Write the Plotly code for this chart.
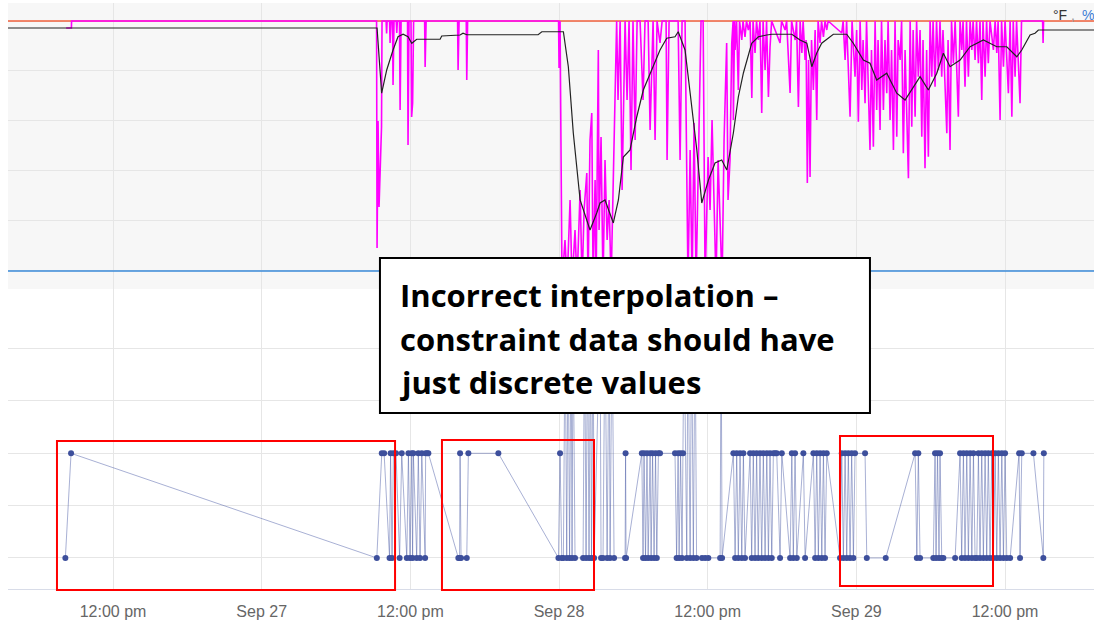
import pandas as pd
import plotly.graph_objects as go

BASE = pd.Timestamp("2022-09-26 00:00")

# ---- x axis ----
tick_hours = [12, 24, 36, 48, 60, 72, 84]
tick_labels = ["12:00 pm", "Sep 27", "12:00 pm", "Sep 28", "12:00 pm", "Sep 29", "12:00 pm"]
view_hours = [3.52, 91.18]

# ---- top panel (°F, %) ----
limit_hours = [3.0, 92.0]
upper_limit = [100, 100]
lower_limit = [0, 0]

temp_hours = [3.0, 33.23, 33.31, 33.68, 34.09, 34.6, 35.0, 35.41, 35.81, 36.11, 36.51, 38.4, 38.53,
              40.01, 40.25, 40.55, 46.31, 46.61, 48.35, 48.75, 49.15, 49.7, 50.5, 51.04, 51.31, 51.71,
              52.12, 52.38, 52.79, 53.19, 53.73, 54.27, 54.8, 55.61, 56.15, 56.69, 57.36, 57.62, 58.17,
              58.58, 59.12, 59.52, 60.06, 60.59, 61.13, 61.54, 62.07, 62.47, 62.88, 63.55, 64.09, 64.77,
              65.17, 66.79, 67.45, 68.0, 68.4, 68.8, 69.2, 70.14, 71.22, 71.75, 72.56, 73.1, 73.64,
              74.45, 75.26, 75.93, 76.47, 77.14, 77.81, 78.49, 79.02, 79.56, 80.37, 81.18, 82.25,
              83.33, 84.14, 84.95, 85.35, 85.76, 86.02, 86.42, 86.69, 87.88, 92.0]
temp_values = [97.2, 97.2, 97.2, 71.1, 80.4, 88.4, 93.7, 94.7, 93.7, 91.1, 92.7, 92.7, 94.0,
               94.4, 95.1, 94.5, 94.5, 95.7, 95.7, 81.7, 55.2, 28.4, 16.4, 23.2, 27.2, 28.4,
               23.2, 19.2, 28.4, 45.6, 48.4, 61.6, 72.4, 81.7, 88.4, 93.1, 93.7, 95.7, 88.4,
               71.2, 48.4, 27.2, 36.4, 43.2, 44.4, 40.4, 55.2, 69.6, 79.2, 91.1, 93.7, 94.4,
               94.7, 94.7, 92.4, 91.1, 81.7, 87.2, 91.1, 94.7, 94.7, 91.1, 84.4, 83.1, 76.4,
               79.1, 71.1, 68.4, 72.4, 77.7, 72.4, 79.1, 87.1, 81.7, 84.4, 89.7, 92.4,
               89.7, 89.7, 85.7, 88.4, 92.4, 94.4, 95.1, 96.4, 96.4, 96.4]

humid_hours = [8.21, 8.64, 8.65, 33.27, 33.31, 33.39, 33.47, 33.55, 33.67, 33.71, 34.04, 34.08, 34.12,
               34.32, 34.36, 34.44, 34.56, 34.6, 34.68, 34.86, 34.9, 34.95, 35.12, 35.17, 35.25,
               35.77, 35.81, 35.89, 36.05, 36.1, 36.18, 36.26, 37.15, 37.19, 37.27, 39.81, 39.85,
               39.93, 40.51, 40.55, 40.62, 47.96, 48.0, 48.08,
               48.24, 48.48, 48.65, 48.89, 49.05, 49.29, 49.45, 49.7, 49.86, 50.02, 50.24, 50.34,
               50.5, 50.64, 50.75, 50.91, 50.99, 51.17, 51.23, 51.39, 51.55, 51.71, 51.88, 52.04,
               52.2, 52.36, 52.65, 52.76, 52.93, 53.09, 53.33, 53.49, 53.65, 53.81, 53.97, 54.14,
               54.3, 54.54, 54.78, 54.94, 55.19, 55.35, 55.59, 55.75, 55.91, 56.15, 56.32, 56.64,
               56.72, 56.88, 57.61, 57.77, 57.93, 58.17, 58.41, 58.58, 58.74, 58.9, 59.06, 59.22,
               59.46, 59.63, 59.79, 60.03, 60.19, 60.35, 60.51, 60.67, 60.84, 61.0, 61.16, 61.32,
               61.53, 61.64, 61.8,
               61.94, 62.05, 62.07, 62.17, 62.21, 62.33, 62.47, 62.57, 62.75, 62.85, 63.01, 63.13,
               63.28, 63.42, 63.56, 63.66, 63.82, 63.94, 64.09, 64.22, 64.36, 64.47, 64.63, 64.75,
               64.9, 65.03, 65.16, 65.84, 65.96, 66.25, 66.37, 66.65, 66.77, 67.06, 67.17, 67.32,
               67.46, 67.6, 67.7, 67.86, 67.94, 68.04, 68.14, 68.26, 68.38, 68.53, 68.67, 68.8,
               68.91, 69.07, 69.19, 69.34, 69.47, 69.61, 69.72, 70.82, 70.93, 71.09, 71.21, 71.49,
               71.65, 71.89, 72.02, 72.16, 72.3, 72.44, 72.54, 72.7, 72.82, 73.1, 73.22, 73.37,
               73.51, 73.64, 73.75, 73.91, 74.03, 74.18, 74.31, 74.45, 74.56, 74.72, 74.84, 74.99,
               75.12, 75.26, 75.37, 75.53, 75.65, 75.79, 75.93, 76.2, 76.34, 76.47, 76.58, 76.74,
               76.86, 77.0, 77.14, 77.28, 77.38, 77.54, 77.67, 77.81, 77.95, 78.09, 78.19, 78.35,
               78.47, 78.62, 78.75, 78.89, 78.99, 79.3, 79.4, 79.56, 79.68, 79.83, 79.97, 80.23,
               80.37, 80.51, 80.61, 80.77, 80.89, 81.04, 81.18, 81.32, 81.42, 81.58, 81.7, 81.85,
               81.98, 82.12, 82.22, 82.39, 82.51, 82.65, 82.79, 83.06, 83.2, 83.33, 83.44, 83.6,
               83.72, 83.87, 84.0, 84.27, 84.41, 84.55, 84.66, 84.81, 84.93, 85.21, 85.33, 87.03,
               87.07, 87.11]
humid_values = [97.2, 97.2, 100, 100, 9.2, 60, 25.6, 40, 57.6, 100, 100, 95, 100,
                100, 91.2, 100, 100, 74.4, 100, 100, 95.2, 100, 100, 64.4, 100,
                100, 50.4, 100, 100, 61.6, 67.2, 100, 100, 81.6, 100, 100, 80.4,
                100, 100, 76.4, 100, 100, 81.2, 100,
                -5, 12.4, -5, 28.4, -5, 16.4, -5, 32.4, -5, 24.4, 39.2, -5,
                52.4, 63.2, -5, 36.4, -5, 88.4, 16.4, 53.6, -5, 44.4, 12.4, 28.4,
                -5, 32.4, 100, 68.4, 100, 32.4, 100, 68.4, 100, 40.4, 100, 52.4,
                100, 100, 68.4, 100, 100, 56.4, 100, 52.4, 100, 91.2, 100, 100,
                44.4, 100, 100, 44.4, 100, 100, -5, 48.4, -5, 59.2, -5, 36.4,
                100, 100, -5, 45.6, 24.4, 60.4, 31.2, -5, 44.4, 20.4, -5, 52.4,
                91.2, 28.4, 44.4,
                91.2, 100, 60.4, 100, 88.4, 100, 72.4, 100, 92.4, 100, 93.6, 100,
                96.4, 100, 69.2, 100, 87.2, 100, 92.4, 100, 63.2, 100, 80.4, 100,
                69.6, 89.6, 100, 91.2, 100, 96.4, 100, 71.2, 100, 92.4, 100, 65.6,
                100, 87.2, 100, 84.4, 92.4, 35.2, 84.4, 37.6, 92.4, 72.4, 96.4, 60.4,
                100, 91.2, 100, 93.6, 100, 96.4, 100, 95.2, 100, 84.4, 100, 61.7,
                100, 77.7, 96.4, 59.7, 100, 72.4, 92.4, 67.1, 100, 48.4, 88.4, 49.7,
                100, 64.4, 92.4, 56.4, 100, 64.4, 92.4, 71.1, 100, 60.4, 88.4, 48.4,
                100, 53.7, 92.4, 84.4, 100, 47.1, 88.4, 37.1, 100, 57.7, 96.4, 61.7,
                100, 77.7, 96.4, 53.7, 92.4, 41.1, 88.4, 45.7, 100, 77.7, 100, 73.7,
                100, 80.4, 100, 77.7, 96.4, 55.1, 92.4, 48.4, 100, 83.1, 100, 61.7,
                100, 88.4, 100, 73.7, 100, 77.7, 100, 88.4, 100, 84.4, 100, 83.1,
                100, 68.4, 100, 77.7, 100, 83.1, 100, 88.4, 100, 87.2, 100, 60.4,
                100, 81.7, 100, 71.1, 100, 61.7, 100, 77.7, 100, 67.1, 100, 100,
                91.2, 100]

# ---- bottom panel (constraint) ----
constraint_hours = [8.15, 8.61, 33.29, 33.69, 33.88, 34.32, 34.4, 34.52, 34.63, 34.84, 35.13, 35.3,
                    35.71, 35.84, 35.97, 36.11, 36.18, 36.24, 36.51, 36.64, 36.78, 36.92, 37.19, 37.23,
                    37.35, 37.45, 39.87, 39.97, 40.01, 40.09, 40.55, 40.68, 43.1, 47.95, 48.08, 48.22,
                    48.35, 48.49, 48.62, 48.73, 48.85, 48.97, 49.05, 49.13, 49.29, 49.94, 50.06, 50.18,
                    50.3, 50.42, 50.54, 50.62, 50.75, 50.83, 51.31, 51.39, 51.55, 51.71, 51.88, 52.04,
                    52.12, 52.28, 52.44, 53.33, 53.37, 53.41, 54.68, 54.78, 54.86, 54.98, 55.1, 55.19,
                    55.35, 55.43, 55.55, 55.67, 55.79, 55.89, 56.02, 56.15, 57.36, 57.49, 57.61, 57.69,
                    57.81, 57.93, 58.01, 58.09, 58.31, 58.41, 58.58, 58.7, 58.84, 58.98, 59.1, 59.54,
                    59.79, 60.05, 61.0, 61.08, 61.16, 62.07, 62.21, 62.34, 62.47, 62.61, 62.75, 62.88,
                    63.01, 63.42, 63.55, 63.68, 63.82, 63.95, 64.08, 64.22, 64.36, 64.49, 64.63, 64.77,
                    64.9, 65.03, 65.17, 65.3, 65.44, 65.57, 65.84, 65.98, 66.65, 66.79, 66.91, 67.05,
                    67.19, 67.72, 67.86, 68.53, 68.67, 68.8, 68.93, 69.07, 69.21, 69.34, 69.47, 69.61,
                    70.68, 70.82, 70.95, 71.09, 71.22, 71.35, 71.49, 71.62, 71.76, 71.89, 72.7, 72.84,
                    74.37, 76.74, 76.88, 77.0, 77.14, 78.21, 78.35, 78.43, 78.55, 78.67, 78.75, 78.89,
                    79.02, 79.97, 80.37, 80.5, 80.64, 80.77, 80.91, 81.04, 81.18, 81.32, 81.45, 81.58,
                    81.72, 81.85, 81.98, 82.12, 82.25, 82.39, 82.52, 82.65, 82.79, 82.93, 83.06, 83.2,
                    83.33, 83.46, 83.6, 83.74, 83.87, 84.0, 84.14, 84.41, 85.13, 85.21, 85.35, 86.29,
                    87.09, 87.13]
constraint_values = [0, 2, 0, 2, 2, 0, 2, 0, 2, 2, 0, 2,
                     0, 2, 0, 2, 0, 2, 0, 2, 0, 2, 0, 2,
                     2, 2, 0, 0, 2, 0, 0, 2, 2, 0, 2, 0,
                     0, 4.6, 0, 4.6, 0, 4.6, 0, 4.6, 0, 0, 4.6, 0,
                     4.6, 0, 4.6, 0, 4.6, 0, 4.6, 0, 0, 4.6, 0, 4.6,
                     0, 4.6, 0, 0, 2, 0, 2, 0, 2, 0, 2, 0,
                     2, 0, 2, 0, 2, 0, 2, 2, 2, 0, 2, 0,
                     2, 0, 2, 4.6, 0, 4.6, 0, 4.6, 0, 4.6, 0, 0,
                     0, 0, 0, 4.6, 0, 2, 0, 2, 0, 2, 0, 2,
                     0, 2, 0, 2, 0, 2, 0, 2, 0, 2, 0, 2,
                     0, 2, 0, 2, 2, 2, 0, 2, 0, 2, 0, 2,
                     0, 2, 0, 2, 0, 2, 0, 2, 0, 2, 0, 2,
                     0, 2, 0, 2, 0, 2, 0, 2, 0, 2, 2, 0,
                     0, 2, 0, 2, 0, 0, 2, 0, 2, 0, 2, 0,
                     0, 0, 2, 0, 2, 0, 2, 0, 2, 0, 2, 0,
                     0, 2, 0, 2, 0, 2, 0, 2, 0, 2, 0, 2,
                     0, 2, 0, 2, 0, 2, 0, 0, 2, 0, 2, 2,
                     0, 2]

note_lines = ["Incorrect interpolation –", "constraint data should have", "just discrete values"]


def to_time(hours):
    return [BASE + pd.Timedelta(hours=h) for h in hours]


fig = go.Figure()

fig.add_trace(go.Scatter(x=to_time(limit_hours), y=lower_limit, xaxis="x", yaxis="y2",
                         mode="lines", line=dict(color="#3a8ad8", width=1.6), hoverinfo="skip"))
fig.add_trace(go.Scatter(x=to_time(limit_hours), y=upper_limit, xaxis="x", yaxis="y2",
                         mode="lines", line=dict(color="#f0603c", width=1.6), hoverinfo="skip"))
fig.add_trace(go.Scatter(x=to_time(humid_hours), y=humid_values, xaxis="x", yaxis="y2",
                         mode="lines", line=dict(color="#ff00ff", width=1.6), hoverinfo="skip"))
fig.add_trace(go.Scatter(x=to_time(temp_hours), y=temp_values, xaxis="x", yaxis="y2",
                         mode="lines", line=dict(color="#222222", width=1.2), hoverinfo="skip"))
fig.add_trace(go.Scatter(x=to_time(constraint_hours), y=constraint_values, xaxis="x", yaxis="y",
                         mode="lines+markers",
                         line=dict(color="rgba(61,80,160,0.45)", width=1),
                         marker=dict(color="#3d4f9c", size=6), hoverinfo="skip"))

grid = "#e6e6e6"
split = 0.512

fig.update_layout(
    width=1094, height=620, autosize=False,
    margin=dict(l=8, r=0, t=3, b=31),
    paper_bgcolor="white", plot_bgcolor="white",
    showlegend=False,
    xaxis=dict(type="date", range=to_time(view_hours), anchor="y",
               tickvals=to_time(tick_hours), ticktext=tick_labels,
               tickfont=dict(family="Liberation Sans, Arial", size=16, color="#666666"),
               ticklabelstandoff=8,
               showgrid=True, gridcolor=grid, gridwidth=1, zeroline=False,
               showline=True, linecolor="#d8dce8", linewidth=1, ticks=""),
    yaxis=dict(domain=[0, split], range=[-0.593, 5.14], tickvals=[0, 1, 2, 3, 4],
               showticklabels=False, showgrid=True, gridcolor=grid, zeroline=False),
    yaxis2=dict(domain=[split, 1], range=[-7.2, 107.2], anchor="x",
                tickvals=[0, 20, 40, 60, 80, 100], showticklabels=False,
                showgrid=True, gridcolor=grid, zeroline=False),
)

shapes = [
    dict(type="rect", xref="paper", yref="paper", x0=0, x1=1, y0=split, y1=1,
         fillcolor="#f7f7f7", line=dict(width=0), layer="below"),
    dict(type="rect", xref="paper", yref="paper", x0=0.0451, x1=0.3564, y0=-0.0017, y1=0.2526,
         line=dict(color="#ff0000", width=2)),
    dict(type="rect", xref="paper", yref="paper", x0=0.3996, x1=0.5396, y0=-0.0017, y1=0.2543,
         line=dict(color="#ff0000", width=2)),
    dict(type="rect", xref="paper", yref="paper", x0=0.7661, x1=0.9070, y0=0.0051, y1=0.2611,
         line=dict(color="#ff0000", width=2)),
    dict(type="rect", xref="paper", yref="paper", x0=0.3425, x1=0.7937, y0=0.3003, y1=0.5648,
         fillcolor="white", line=dict(color="black", width=2)),
]
fig.update_layout(shapes=shapes)

note_y = [(589 - 295) / 586, (589 - 339) / 586, (589 - 382) / 586]
for line, yy in zip(note_lines, note_y):
    fig.add_annotation(text=line, xref="paper", yref="paper", x=(398 - 8) / 1086, y=yy,
                       xanchor="left", yanchor="middle", showarrow=False,
                       font=dict(family="Open Sans", size=31, color="black", weight="bold"))

fig.add_annotation(text="°F", xref="paper", yref="paper", x=(1069 - 8) / 1086, y=(589 - 15) / 586,
                   xanchor="right", yanchor="middle", showarrow=False,
                   font=dict(family="Liberation Sans", size=14, color="#333333"))
fig.add_annotation(text=",", xref="paper", yref="paper", x=(1073 - 8) / 1086, y=(589 - 15) / 586,
                   xanchor="center", yanchor="middle", showarrow=False,
                   font=dict(family="Liberation Sans", size=14, color="#999999"))
fig.add_annotation(text="%", xref="paper", yref="paper", x=(1080 - 8) / 1086, y=(589 - 15) / 586,
                   xanchor="left", yanchor="middle", showarrow=False,
                   font=dict(family="Liberation Sans", size=14, color="#3a7bd5"))

fig.write_html("out.html", config={"displayModeBar": False})
